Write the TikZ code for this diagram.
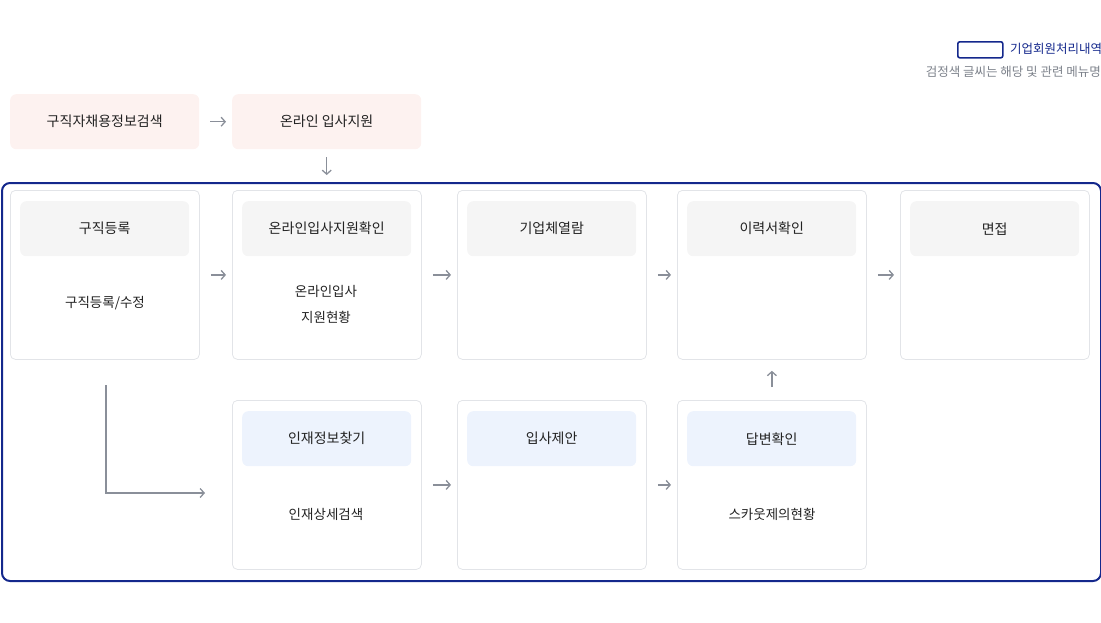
\documentclass[tikz,border=0pt]{standalone}
\usepackage{fontspec}
\setmainfont{Noto Sans CJK KR}
\usetikzlibrary{arrows.meta}
\definecolor{navy}{HTML}{14288C}
\definecolor{cardline}{HTML}{E2E4E8}
\definecolor{hgray}{HTML}{F5F5F5}
\definecolor{hblue}{HTML}{EDF3FD}
\definecolor{pink}{HTML}{FDF2F0}
\definecolor{arr}{HTML}{8A8F99}
\definecolor{txt}{HTML}{222222}
\begin{document}
\begin{tikzpicture}[x=1pt,y=-1pt,
  card/.style={draw=cardline,line width=0.8pt,rounded corners=5pt,minimum width=189pt,minimum height=169pt,anchor=north west,inner sep=0},
  head/.style={rounded corners=6pt,minimum width=169pt,minimum height=55pt,anchor=north west,inner sep=0,font=\fontsize{14}{16}\selectfont,text=txt},
  pinkbox/.style={fill=pink,rounded corners=6pt,minimum width=189pt,minimum height=55pt,anchor=north west,inner sep=0,font=\fontsize{14}{16}\selectfont,text=txt},
  sub/.style={font=\fontsize{13.5}{26}\selectfont,text=txt,align=center},
  flow/.style={draw=arr,line width=1.3pt,-{Straight Barb[length=4pt,width=9pt]}},
  hflow/.style={flow,shorten <=11pt,shorten >=6pt}]
\useasboundingbox (0,0) rectangle (1101,622);
% legend
\node[draw=navy,line width=1.6pt,rounded corners=2pt,minimum width=45pt,minimum height=16pt,anchor=north west,inner sep=0] (leg) at (957,41) {};
\node[anchor=west,text=navy,font=\fontsize{12.5}{14}\selectfont,inner sep=0] (legt) at (1010,49) {기업회원처리내역};
\node[anchor=east,text=arr!90!black,font=\fontsize{12.5}{14}\selectfont,inner sep=0] (note) at (1101,72) {검정색 글씨는 해당 및 관련 메뉴명};
% top pink
\node[pinkbox] (p1) at (10,94) {구직자채용정보검색};
\node[pinkbox] (p2) at (232,94) {온라인 입사지원};
\draw[hflow] (p1.east) -- (p2.west);
% frame
\node[draw=navy,line width=2pt,rounded corners=8pt,minimum width=1099pt,minimum height=398pt,anchor=north west,inner sep=0] (frame) at (1,182) {};
\draw[flow,shorten <=8pt,shorten >=7pt] (p2.south) -- (p2.south |- frame.north);
% top row cards
\foreach \n/\x/\t in {c1/10/구직등록,c2/232/온라인입사지원확인,c3/457/기업체열람,c4/677/이력서확인,c5/900/면접/채용}{
  \node[card] (\n) at (\x,190) {};
  \node[head,fill=hgray] (\n h) at (\x+10,201) {\t};
}
\foreach \n/\x/\t in {d2/232/인재정보찾기,d3/457/입사제안,d4/677/답변확인}{
  \node[card] (\n) at (\x,400) {};
  \node[head,fill=hblue] (\n h) at (\x+10,411) {\t};
}
\node[sub] (s1) at (105,303) {구직등록/수정};
\node[sub] (s2) at (326,304) {온라인입사\\지원현황};
\node[sub] (s3) at (326,514) {인재상세검색};
\node[sub] (s4) at (772,514) {스카웃제의현황};
\foreach \a/\b in {c1/c2,c2/c3,c3/c4,c4/c5,d2/d3,d3/d4}{
  \draw[hflow] (\a.east) -- (\b.west);
}
\draw[flow,shorten <=13pt,shorten >=11pt] (d4.north) -- (c4.south);
\coordinate (lstart) at (106,385);
\coordinate (lcorner) at (106,493);
\draw[flow,shorten >=27pt] (lstart) -- (lcorner) -- (lcorner -| d2.west);
\end{tikzpicture}
\end{document}
